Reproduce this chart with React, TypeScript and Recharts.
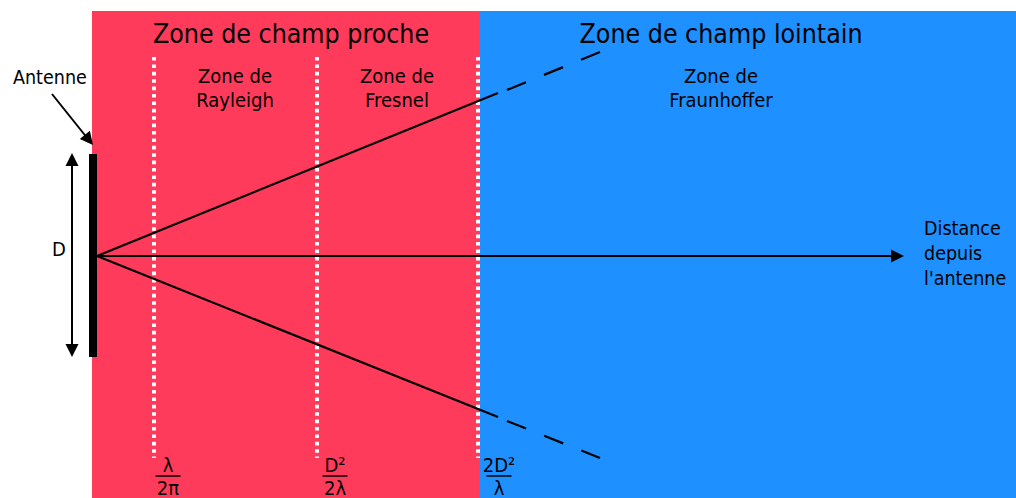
import {
  ComposedChart,
  XAxis,
  YAxis,
  ReferenceArea,
  ReferenceLine,
  Line,
  Scatter,
} from 'recharts';

const W = 1016;
const H = 498;
const FONT = '"DejaVu Sans Condensed", "DejaVu Sans", sans-serif';

// zones: near field (red) and far field (blue)
const nearZone = { x1: 92, x2: 479, top: 11 };
const farZone = { x1: 479, x2: 1016, top: 11 };

// dotted boundaries between sub-zones
const boundaries = [154, 317, 478];
const boundaryTop = 57;
const boundaryBottom = 458;

// antenna bar and D dimension
const antenna = { x1: 89, x2: 97, y1: 154, y2: 357 };
const dLine = [
  { x: 72, y: 160 },
  { x: 72, y: 350 },
];
const antennaPointer = [
  { x: 52, y: 94 },
  { x: 88, y: 139 },
];

// beams from the antenna
const upperSolid = [
  { x: 97, y: 256 },
  { x: 498, y: 93 },
];
const upperDashed = [
  { x: 507, y: 90 },
  { x: 600, y: 52 },
];
const lowerSolid = [
  { x: 97, y: 256 },
  { x: 498, y: 417 },
];
const lowerDashed = [
  { x: 507, y: 421 },
  { x: 600, y: 458 },
];
const distanceAxis = [
  { x: 97, y: 256 },
  { x: 893, y: 256 },
];

// arrow tips (angle in degrees, 0 = pointing right)
const arrowTips = [
  { x: 904, y: 256, angle: 0 },
  { x: 72, y: 153, angle: -90 },
  { x: 72, y: 357, angle: 90 },
  { x: 93, y: 145, angle: 51 },
];

const titles = [
  { x: 291, y: 43, text: 'Zone de champ proche' },
  { x: 721, y: 43, text: 'Zone de champ lointain' },
];
const zoneNames = [
  { x: 235, y: 83, text: 'Zone de' },
  { x: 235, y: 107, text: 'Rayleigh' },
  { x: 397, y: 83, text: 'Zone de' },
  { x: 397, y: 107, text: 'Fresnel' },
  { x: 721, y: 83, text: 'Zone de' },
  { x: 721, y: 107, text: 'Fraunhoffer' },
  { x: 59, y: 256, text: 'D' },
];
const sideTexts = [
  { x: 13, y: 84, text: 'Antenne' },
  { x: 924, y: 235, text: 'Distance' },
  { x: 924, y: 260, text: 'depuis' },
  { x: 924, y: 285, text: "l'antenne" },
];
const fractions = [
  { x: 168, y: 476, num: 'λ', den: '2π' },
  { x: 335, y: 476, num: 'D²', den: '2λ' },
  { x: 499, y: 476, num: '2D²', den: 'λ' },
];

const makeText = (size: number, anchor: 'start' | 'middle') => (props: any) => {
  const { cx, cy, payload } = props;
  return (
    <text x={cx} y={cy} fontSize={size} fontFamily={FONT} textAnchor={anchor} fill="#000">
      {payload.text}
    </text>
  );
};

const TitleText = makeText(26.5, 'middle');
const ZoneText = makeText(20, 'middle');
const SideText = makeText(19.5, 'start');

const FractionShape = (props: any) => {
  const { cx, cy, payload } = props;
  return (
    <g>
      <text x={cx} y={cy - 4} fontSize={20} fontFamily={FONT} textAnchor="middle" fill="#000">
        {payload.num}
      </text>
      <line x1={cx - 12.5} x2={cx + 12.5} y1={cy} y2={cy} stroke="#000" strokeWidth={1.5} />
      <text x={cx} y={cy + 18.5} fontSize={20} fontFamily={FONT} textAnchor="middle" fill="#000">
        {payload.den}
      </text>
    </g>
  );
};

const ArrowHead = (props: any) => {
  const { cx, cy, payload } = props;
  return (
    <polygon
      points="0,0 -13,-6.5 -13,6.5"
      transform={`translate(${cx},${cy}) rotate(${payload.angle})`}
      fill="#000"
    />
  );
};

export default function App() {
  return (
    <div style={{ position: 'absolute', left: 0, top: 0 }}>
      <ComposedChart width={W} height={H} margin={{ top: 0, right: 0, bottom: 0, left: 0 }}>
        <XAxis type="number" dataKey="x" domain={[0, W]} allowDataOverflow hide />
        <YAxis type="number" dataKey="y" domain={[0, H]} allowDataOverflow reversed hide />

        <ReferenceArea
          x1={nearZone.x1}
          x2={nearZone.x2}
          y1={nearZone.top}
          y2={H}
          fill="#FF3B5C"
          fillOpacity={1}
          stroke="none"
          ifOverflow="visible"
        />
        <ReferenceArea
          x1={farZone.x1}
          x2={farZone.x2}
          y1={farZone.top}
          y2={H}
          fill="#1E90FF"
          fillOpacity={1}
          stroke="none"
          ifOverflow="visible"
        />
        <ReferenceArea
          x1={antenna.x1}
          x2={antenna.x2}
          y1={antenna.y1}
          y2={antenna.y2}
          fill="#000"
          fillOpacity={1}
          stroke="none"
          ifOverflow="visible"
        />

        {boundaries.map((b) => (
          <ReferenceLine
            key={b}
            segment={[
              { x: b, y: boundaryTop },
              { x: b, y: boundaryBottom },
            ]}
            stroke="#fff"
            strokeWidth={4}
            strokeDasharray="3.6 3.8"
            ifOverflow="visible"
          />
        ))}

        <Line data={upperSolid} dataKey="y" stroke="#000" strokeWidth={2.2} dot={false} isAnimationActive={false} />
        <Line data={lowerSolid} dataKey="y" stroke="#000" strokeWidth={2.2} dot={false} isAnimationActive={false} />
        <Line
          data={upperDashed}
          dataKey="y"
          stroke="#000"
          strokeWidth={2.2}
          strokeDasharray="20.5 19.5"
          dot={false}
          isAnimationActive={false}
        />
        <Line
          data={lowerDashed}
          dataKey="y"
          stroke="#000"
          strokeWidth={2.2}
          strokeDasharray="20.5 19.5"
          dot={false}
          isAnimationActive={false}
        />
        <Line data={distanceAxis} dataKey="y" stroke="#000" strokeWidth={2} dot={false} isAnimationActive={false} />
        <Line data={dLine} dataKey="y" stroke="#000" strokeWidth={2} dot={false} isAnimationActive={false} />
        <Line data={antennaPointer} dataKey="y" stroke="#000" strokeWidth={2} dot={false} isAnimationActive={false} />

        <Scatter data={arrowTips} shape={ArrowHead} isAnimationActive={false} />
        <Scatter data={titles} shape={TitleText} isAnimationActive={false} />
        <Scatter data={zoneNames} shape={ZoneText} isAnimationActive={false} />
        <Scatter data={sideTexts} shape={SideText} isAnimationActive={false} />
        <Scatter data={fractions} shape={FractionShape} isAnimationActive={false} />
      </ComposedChart>
    </div>
  );
}
